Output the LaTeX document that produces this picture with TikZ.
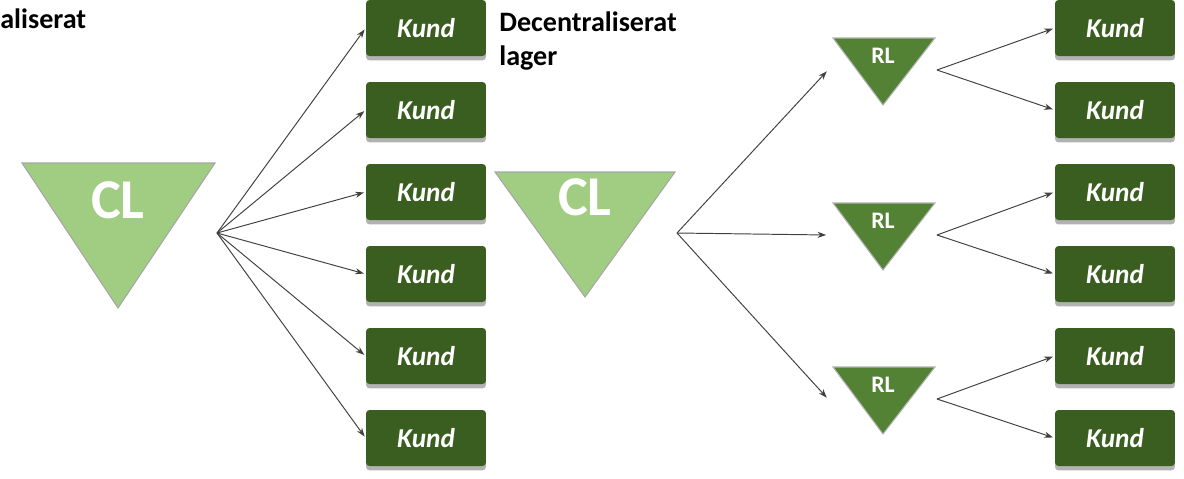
\documentclass[tikz,border=0pt]{standalone}
\usepackage{fontspec}
\setsansfont{Carlito}
\usetikzlibrary{shadows,arrows.meta}

\definecolor{clgreen}{RGB}{161,205,131}
\definecolor{rlgreen}{RGB}{84,130,53}
\definecolor{kundgreen}{RGB}{58,94,31}

\tikzset{
  kund/.style={fill=kundgreen, rounded corners=2pt, minimum width=2.4cm, minimum height=1.12cm,
    inner sep=0pt, text=white, font=\sffamily\bfseries\itshape\fontsize{15.5}{17}\selectfont,
    copy shadow={shadow xshift=0pt, shadow yshift=-2.5pt, fill=black!30, draw=none}},
  pil/.style={-{Stealth[length=5pt,width=3.5pt]}, line width=0.55pt, black!75, shorten >=1pt},
  rubrik/.style={font=\sffamily\bfseries\fontsize{16}{19.5}\selectfont, inner sep=0pt, align=left},
  lagertext/.style={text=white, inner sep=0pt, font=\sffamily\bfseries\fontsize{#1}{#1}\selectfont},
}

\begin{document}
\begin{tikzpicture}[x=0.02cm, y=-0.02cm]
\useasboundingbox (0,0) rectangle (1184,478);

% rubriker
\node[rubrik, anchor=base west] (rub1) at (0,28) {aliserat};
\node[rubrik, anchor=north west] (rub2) at (499,11) {Decentraliserat\\lager};

% centraliserat: CL direkt till kund
\fill[clgreen, draw=black!35, line width=0.6pt] (22,163) -- (215,163) -- (118,308) -- cycle;
\node[lagertext=32] (cl1) at (118,200) {CL};
\coordinate (fan1) at (217,233);

\foreach \i in {1,...,6}
  \node[kund] (k\i) at (426,{28+82*(\i-1)}) {Kund};
\foreach \i in {1,...,6}
  \draw[pil] (fan1) -- (k\i.west);

% decentraliserat: CL via RL till kund
\fill[clgreen, draw=black!35, line width=0.6pt] (495,172) -- (675,172) -- (585,297) -- cycle;
\node[lagertext=32] (cl2) at (585,197) {CL};
\coordinate (fan2) at (677,233);

\foreach \j/\t in {1/38, 2/203, 3/367} {
  \fill[rlgreen, draw=black!30, line width=0.6pt] (833,\t) -- (935,\t) -- (883,\t+67) -- cycle;
  \node[lagertext=13.5] (rl\j) at (883,\t+18) {RL};
  \coordinate (rlin\j) at (828,\t+32);
  \coordinate (rlut\j) at (937,\t+32);
  \draw[pil] (fan2) -- (rlin\j);
  \node[kund] (r\j a) at (1115,{28+164*(\j-1)}) {Kund};
  \node[kund] (r\j b) at (1115,{110+164*(\j-1)}) {Kund};
  \draw[pil] (rlut\j) -- (r\j a.west);
  \draw[pil] (rlut\j) -- (r\j b.west);
}
\end{tikzpicture}
\end{document}
